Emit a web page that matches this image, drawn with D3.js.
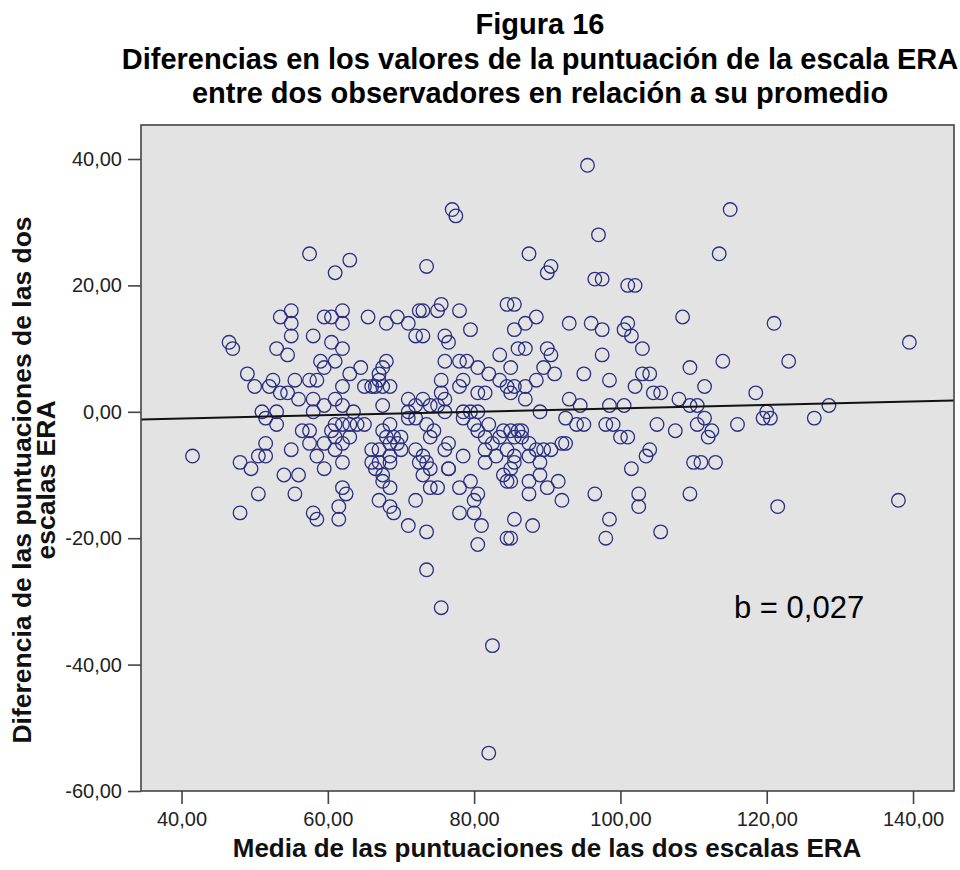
<!DOCTYPE html>
<html>
<head>
<meta charset="utf-8">
<script src="https://cdn.jsdelivr.net/npm/d3@7/dist/d3.min.js"></script>
<style>
  html, body { margin: 0; padding: 0; background: #fff; }
  svg { display: block; font-family: "Liberation Sans", Arial, Helvetica, sans-serif; }
</style>
</head>
<body>
<svg id="chart" width="960" height="870"></svg>
<script>
// Media de las dos escalas (eje X) y diferencia entre observadores (eje Y)
const mediaERA = [
  95.5, 77, 77.5, 115, 97, 57.5, 87.5, 113.5, 63, 73.5,
  61, 90.5, 90, 96.5, 97.5, 101, 102, 84.5, 85.5, 73,
  75, 75.5, 78, 88.5, 87, 85.5, 93, 96, 97.5, 101,
  100.5, 101.5, 108.5, 79.5, 73, 76, 76.5, 121, 139.5, 53.5,
  55, 55, 59.5, 60.5, 62, 62, 65.5, 68, 69.5, 71,
  72.5, 46.5, 47, 55, 58, 60.5, 72, 53, 54.5, 62,
  59, 61, 64.5, 68, 67.5, 67, 67, 63, 62, 65,
  66, 66.5, 67.5, 68.5, 67.5, 61, 62, 63.5, 60.5, 61,
  62, 63, 64, 65, 71, 72, 73, 71, 75.5, 75.5,
  76, 76, 78, 79, 78, 78.5, 80.5, 82, 83.5, 84.5,
  83.5, 80.5, 81.5, 74, 75, 76, 78.5, 79.5, 80.5, 63,
  61, 62, 61, 62, 62, 62.5, 61.5, 61.5, 67.5, 68.5,
  68, 69, 68.5, 69.5, 66, 67, 68.5, 70, 70, 66,
  67, 68.5, 66.5, 67.5, 67.5, 68.5, 67, 68.5, 69, 72,
  73, 73.5, 72.5, 74, 73, 74, 75, 72, 71, 73.5,
  71, 72, 73.5, 74, 74.5, 76.5, 76, 76.5, 76.5, 78.5,
  78, 79.5, 80.5, 80, 78, 80, 81, 80.5, 80.5, 81.5,
  82, 82.5, 83.5, 84, 84.5, 83, 81.5, 81.5, 84.5, 84,
  84.5, 78.5, 80, 86, 87, 90, 90.5, 97.5, 103, 89.5,
  91, 88.5, 87, 85, 95, 98.5, 103, 104, 109.5, 102,
  104.5, 105.5, 108, 109.5, 110.5, 87, 85, 85.5, 93, 94.5,
  98.5, 100.5, 89, 92.5, 94, 95, 98, 99, 100, 101,
  105, 107.5, 110.5, 104, 103.5, 101.5, 110, 96.5, 102.5, 102.5,
  109.5, 98.5, 98, 105.5, 85.5, 88, 85, 86, 86.5, 85,
  85.5, 86.5, 87.5, 88.5, 89.5, 90.5, 92, 92.5, 87.5, 85.5,
  85.5, 89, 85, 85, 87.5, 89, 91.5, 90, 87.5, 92,
  114, 123, 111.5, 118.5, 120, 119.5, 120.5, 126.5, 128.5, 111.5,
  112.5, 112, 116, 111, 113, 121.5, 138, 73.5, 75.5, 82.5,
  82, 49, 50, 52.5, 52, 53.5, 54.5, 55.5, 57.5, 58.5,
  59.5, 56, 58, 59.5, 51, 51.5, 53, 53, 58, 56.5,
  57.5, 57.5, 59.5, 58.5, 59.5, 51.5, 50.5, 51.5, 49.5, 48,
  55, 54, 56, 50.5, 55.5, 48, 58, 58.5, 41.5
];
const diferenciaERA = [
  39, 32, 31, 32, 28, 25, 25, 25, 24, 23,
  22, 23, 22, 21, 21, 20, 20, 17, 17, 16,
  16, 17, 16, 15, 14, 13, 14, 14, 13, 14,
  13, 12, 15, 13, 12, 12, 11, 14, 11, 15,
  16, 14, 15, 15, 16, 14, 15, 14, 15, 14,
  16, 11, 10, 12, 12, 11, 12, 10, 9, 10,
  8, 8, 7, 8, 7, 6, 5, 6, 4, 4,
  4, 4, 4, 4, 1, 2, 1, 0, -3, -2,
  -2, -2, -2, -2, 2, 1, 2, 0, 5, 3,
  2, 8, 8, 8, 4, 5, 7, 6, 5, 4,
  9, 3, 3, 1, 1, 0, 0, 0, 0, -4,
  -4, -5, -6, -8, -12, -13, -15, -17, -3, -2,
  -4, -4, -5, -5, -6, -6, -7, -4, -6, -8,
  -8, -8, -9, -10, -11, -12, -14, -15, -16, -6,
  -7, -8, -8, -9, -10, -12, -12, -14, -18, -19,
  -1, -1, -2, -4, -3, -5, -6, -9, -9, -7,
  -12, -11, -13, -14, -16, -16, -18, -21, -3, -4,
  -2, -5, -4, -3, -6, -7, -6, -8, -11, -10,
  -20, -1, -2, 10, 10, 10, 9, 9, 10, 7,
  6, 5, 4, 7, 6, 5, 6, 6, 7, 4,
  3, 3, 2, 1, 1, 2, 3, 4, 2, 1,
  1, 1, 0, -1, -2, -2, -2, -2, -4, -4,
  -2, -3, -2, -6, -7, -9, -8, -13, -13, -15,
  -13, -17, -20, -19, -17, -18, -20, -3, -3, -3,
  -4, -4, -5, -6, -6, -6, -5, -5, -7, -7,
  -8, -8, -9, -11, -11, -10, -11, -12, -13, -14,
  8, 8, 4, 3, 0, -1, -1, -1, 1, -1,
  -3, -4, -2, -8, -8, -15, -14, -25, -31, -37,
  -54, 6, 4, 5, 4, 3, 3, 5, 5, 5,
  7, 2, 2, 1, 0, -1, 0, -2, 0, -3,
  -3, -5, -5, -7, -9, -5, -7, -7, -9, -8,
  -6, -10, -10, -13, -13, -16, -16, -17, -7
];

const xTicks = [40, 60, 80, 100, 120, 140];
const yTicks = [-60, -40, -20, 0, 20, 40];

// Recta de regresión: pendiente b indicada en el gráfico
const pendiente = 0.027;
const intercepto = -2.15;

const titulo = [
  "Figura 16",
  "Diferencias en los valores de la puntuación de la escala ERA",
  "entre dos observadores en relación a su promedio"
];
const etiquetaX = "Media de las puntuaciones de las dos escalas ERA";
const etiquetaY = ["Diferencia de las puntuaciones de las dos", "escalas ERA"];
const textoPendiente = "b = 0,027";

const svg = d3.select("#chart");
const plot = { left: 141, right: 954, top: 125, bottom: 791 };

const x = d3.scaleLinear().domain([34.46, 145.6]).range([plot.left, plot.right]);
const y = d3.scaleLinear().domain([-60, 45.38]).range([plot.bottom, plot.top]);

const fmt = v => v.toFixed(2).replace(".", ",");

// Fondo del área de datos
svg.append("rect")
  .attr("x", plot.left).attr("y", plot.top)
  .attr("width", plot.right - plot.left).attr("height", plot.bottom - plot.top)
  .attr("fill", "#e3e3e3");

svg.append("clipPath").attr("id", "clip")
  .append("rect")
  .attr("x", plot.left).attr("y", plot.top)
  .attr("width", plot.right - plot.left).attr("height", plot.bottom - plot.top);

// Puntos
const puntos = mediaERA.map((m, i) => ({ m, d: diferenciaERA[i] }));
svg.append("g").attr("clip-path", "url(#clip)")
  .selectAll("circle").data(puntos).join("circle")
  .attr("cx", p => x(p.m))
  .attr("cy", p => y(p.d))
  .attr("r", 6.8)
  .attr("fill", "none")
  .attr("stroke", "#2a2f82")
  .attr("stroke-width", 1.3);

// Recta ajustada
const dom = x.domain();
svg.append("line")
  .attr("clip-path", "url(#clip)")
  .attr("x1", x(dom[0])).attr("y1", y(intercepto + pendiente * dom[0]))
  .attr("x2", x(dom[1])).attr("y2", y(intercepto + pendiente * dom[1]))
  .attr("stroke", "#111").attr("stroke-width", 2);

// Marco
svg.append("rect")
  .attr("x", plot.left).attr("y", plot.top)
  .attr("width", plot.right - plot.left).attr("height", plot.bottom - plot.top)
  .attr("fill", "none").attr("stroke", "#444").attr("stroke-width", 1.6);

// Ejes
const ax = svg.append("g")
  .attr("transform", `translate(0,${plot.bottom})`)
  .call(d3.axisBottom(x).tickValues(xTicks).tickFormat(fmt).tickSize(13).tickPadding(8));
const ay = svg.append("g")
  .attr("transform", `translate(${plot.left},0)`)
  .call(d3.axisLeft(y).tickValues(yTicks).tickFormat(fmt).tickSize(13).tickPadding(6));
[ax, ay].forEach(g => {
  g.select(".domain").remove();
  g.selectAll(".tick line").attr("stroke", "#444").attr("stroke-width", 1.6);
  g.selectAll(".tick text")
    .attr("fill", "#222")
    .style("font-family", "'Liberation Sans', Arial, sans-serif")
    .style("font-size", "20px");
});

// Título
svg.append("g").selectAll("text").data(titulo).join("text")
  .attr("x", 540)
  .attr("y", (d, i) => 34 + i * 34.5)
  .attr("text-anchor", "middle")
  .attr("font-weight", "bold")
  .attr("font-size", 29)
  .attr("fill", "#000")
  .text(d => d);

// Etiqueta eje X
svg.append("text")
  .attr("x", 547).attr("y", 857)
  .attr("text-anchor", "middle")
  .attr("font-weight", "bold")
  .attr("font-size", 26)
  .attr("fill", "#111")
  .text(etiquetaX);

// Etiqueta eje Y (dos líneas, rotada)
svg.append("g")
  .attr("transform", "translate(0,480) rotate(-90)")
  .selectAll("text").data(etiquetaY).join("text")
  .attr("x", 0)
  .attr("y", (d, i) => 31 + i * 24)
  .attr("text-anchor", "middle")
  .attr("font-weight", "bold")
  .attr("font-size", 26.5)
  .attr("fill", "#111")
  .text(d => d);

// Valor de la pendiente
svg.append("text")
  .attr("x", 734).attr("y", 618)
  .attr("font-size", 31)
  .attr("fill", "#000")
  .text(textoPendiente);
</script>
</body>
</html>
